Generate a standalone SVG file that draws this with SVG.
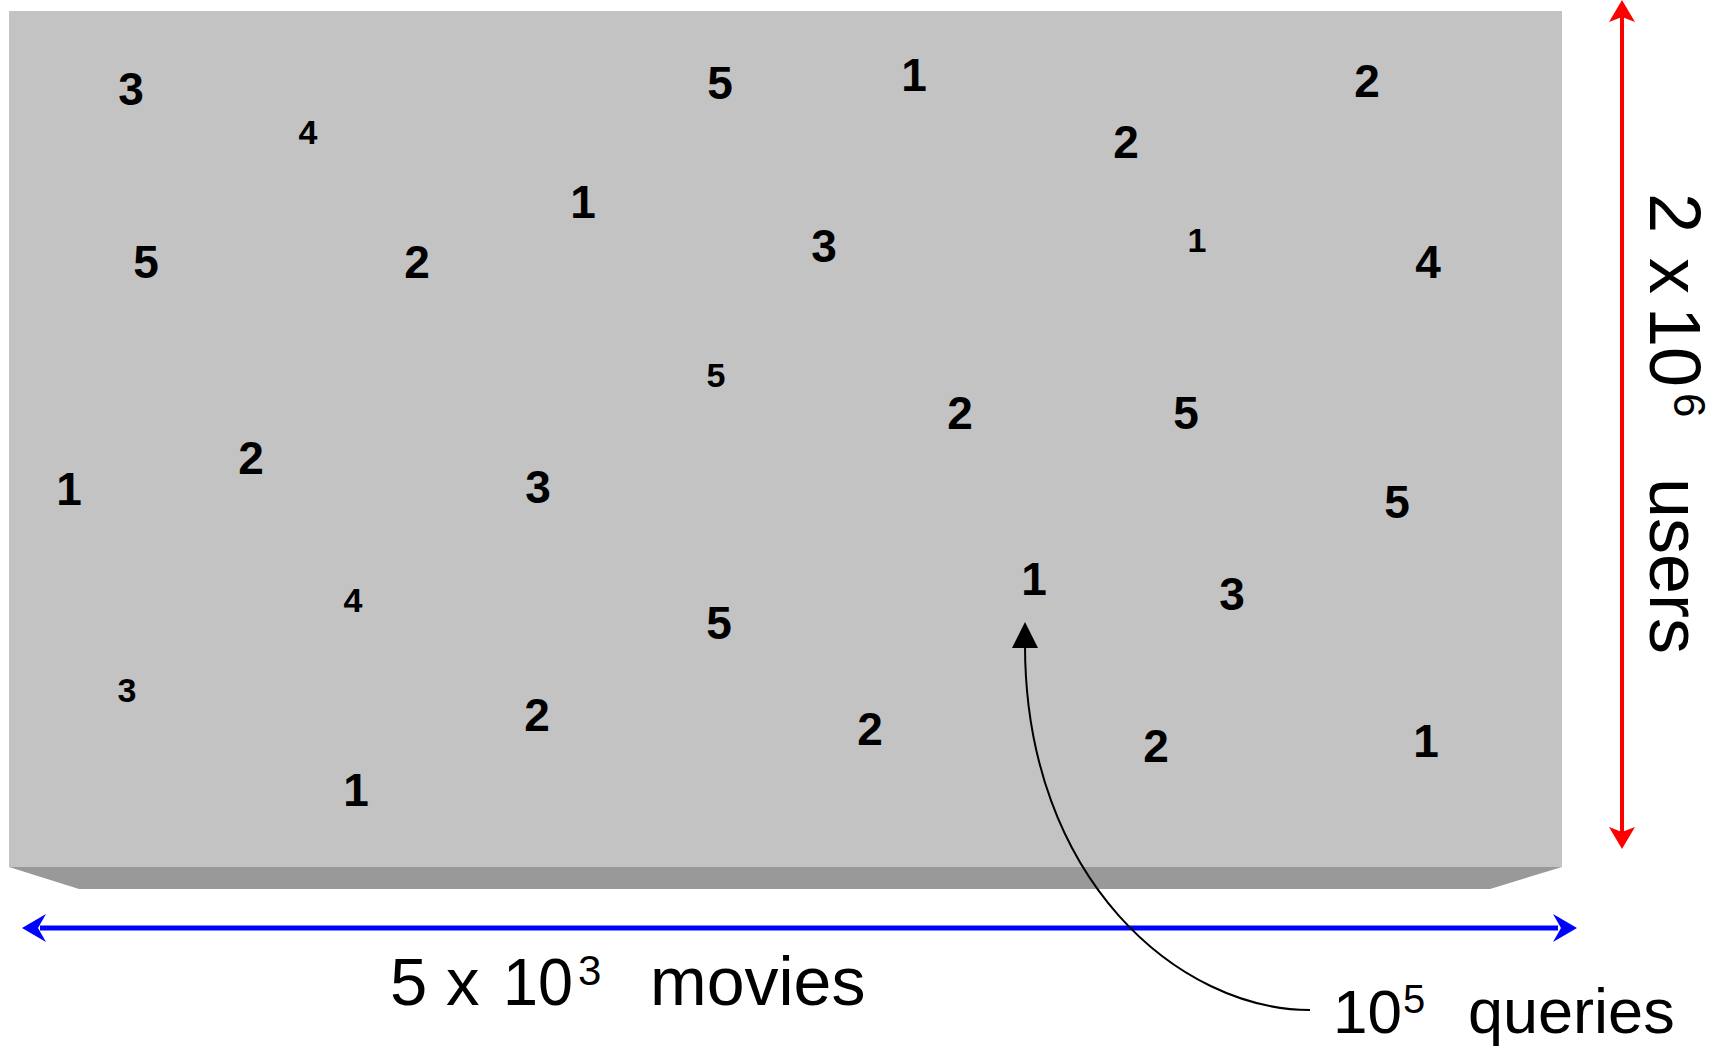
<svg xmlns="http://www.w3.org/2000/svg" width="1721" height="1046" viewBox="0 0 1721 1046">
<style>
.d{font-family:"Liberation Sans",Arial,sans-serif;font-weight:bold;font-size:46px;fill:#000;text-anchor:middle}
.s{font-size:34px}
.lbl{font-family:"Liberation Sans",Arial,sans-serif;fill:#000}
</style>
<rect x="0" y="0" width="1721" height="1046" fill="#ffffff"/>
<g id="matrix">
<rect x="9" y="11" width="1553" height="856" fill="#c3c3c3"/>
<polygon points="9,867 1562,867 1490,889 79,889" fill="#999999"/>
</g>
<g id="ratings">
<text class="d" x="131" y="105">3</text>
<text class="d" x="720" y="99">5</text>
<text class="d" x="914" y="91">1</text>
<text class="d" x="1367" y="97">2</text>
<text class="d" x="1126" y="158">2</text>
<text class="d" x="583" y="218">1</text>
<text class="d" x="146" y="278">5</text>
<text class="d" x="417" y="278">2</text>
<text class="d" x="824" y="262">3</text>
<text class="d" x="1428" y="278">4</text>
<text class="d" x="960" y="429">2</text>
<text class="d" x="1186" y="429">5</text>
<text class="d" x="251" y="474">2</text>
<text class="d" x="69" y="505">1</text>
<text class="d" x="538" y="503">3</text>
<text class="d" x="1397" y="518">5</text>
<text class="d" x="1034" y="595">1</text>
<text class="d" x="1232" y="610">3</text>
<text class="d" x="719" y="639">5</text>
<text class="d" x="537" y="731">2</text>
<text class="d" x="870" y="745">2</text>
<text class="d" x="1156" y="762">2</text>
<text class="d" x="1426" y="757">1</text>
<text class="d" x="356" y="806">1</text>
<text class="d s" x="308" y="144">4</text>
<text class="d s" x="1197" y="252">1</text>
<text class="d s" x="716" y="387">5</text>
<text class="d s" x="353" y="612">4</text>
<text class="d s" x="127" y="702">3</text>
</g>
<g id="connectors">
<line x1="40" y1="928" x2="1558" y2="928" stroke="#0000ff" stroke-width="5"/>
<polygon points="22,928 46,914 38,928 46,942" fill="#0000ff"/>
<polygon points="1577,928 1553,914 1561,928 1553,942" fill="#0000ff"/>
<line x1="1622" y1="16" x2="1622" y2="832" stroke="#ff0000" stroke-width="4"/>
<polygon points="1622,0 1609,22 1622,17 1635,22" fill="#ff0000"/>
<polygon points="1622,849 1609,827 1622,832 1635,827" fill="#ff0000"/>
<path d="M1310,1010 C1180,1010 1025,880 1025,645" fill="none" stroke="#000" stroke-width="2"/>
<polygon points="1025,622 1012,648 1038,648" fill="#000"/>
</g>
<g id="movies-label" class="lbl">
<text x="390" y="1005" font-size="67">5</text>
<text x="446" y="1005" font-size="67">x</text>
<text x="503" y="1005" font-size="67" textLength="70" lengthAdjust="spacingAndGlyphs">10</text>
<text x="578" y="985" font-size="42">3</text>
<text x="650" y="1005" font-size="68">movies</text>
</g>
<g id="queries-label" class="lbl">
<text x="1333" y="1033" font-size="62">10</text>
<text x="1403" y="1013" font-size="40">5</text>
<text x="1468" y="1033" font-size="63">queries</text>
</g>
<g id="users-label" class="lbl" transform="translate(1650,0) rotate(90)">
<text x="193" y="0" font-size="72">2</text>
<text x="258" y="0" font-size="72">x</text>
<text x="307" y="0" font-size="72">10</text>
<text x="393" y="-24" font-size="44">6</text>
<text x="478" y="0" font-size="72">users</text>
</g>
</svg>
